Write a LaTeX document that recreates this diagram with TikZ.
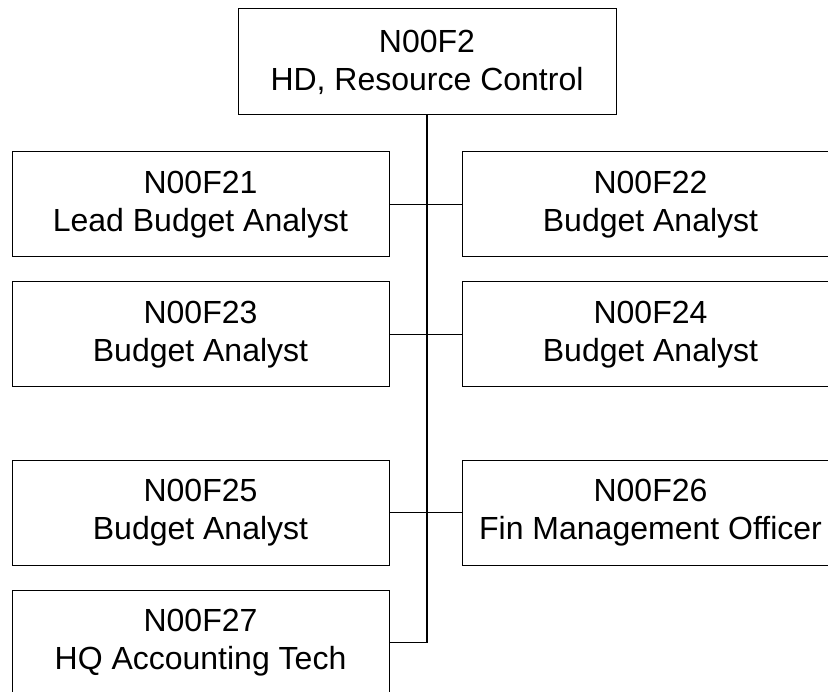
\documentclass[tikz,border=0pt]{standalone}
\usepackage{fontspec}
\setmainfont{Liberation Sans}
\usepackage{tikz}
\tikzset{>=latex}
\tikzset{post/.style={draw,line width=1pt,minimum width=377pt,minimum height=105pt,inner sep=0pt,align=center,font=\fontsize{32}{38}\selectfont}}
\tikzset{link/.style={line width=1pt}}

\begin{document}
\begin{tikzpicture}[x=1pt,y=-1pt]
  \useasboundingbox (0,0) rectangle (828,692);
  \node[post,minimum width=378pt,minimum height=106pt] (f2) at (427,62) {N00F2\\HD, Resource Control};
  \node[post] (f21) at (200.5,204.5) {N00F21\\Lead Budget Analyst};
  \node[post] (f22) at (650.5,204.5) {N00F22\\Budget Analyst};
  \node[post] (f23) at (200.5,334.5) {N00F23\\Budget Analyst};
  \node[post] (f24) at (650.5,334.5) {N00F24\\Budget Analyst};
  \node[post] (f25) at (200.5,513) {N00F25\\Budget Analyst};
  \node[post] (f26) at (650.5,513) {N00F26\\Fin Management Officer};
  \node[post] (f27) at (200.5,642.5) {N00F27\\HQ Accounting Tech};
  \draw[link,line width=1.5pt] (f2.south) -- (f2.south |- f27.east) -- (f27.east);
  \draw[link] (f21.east) -- (f22.west);
  \draw[link] (f23.east) -- (f24.west);
  \draw[link] (f25.east) -- (f26.west);
\end{tikzpicture}
\end{document}
